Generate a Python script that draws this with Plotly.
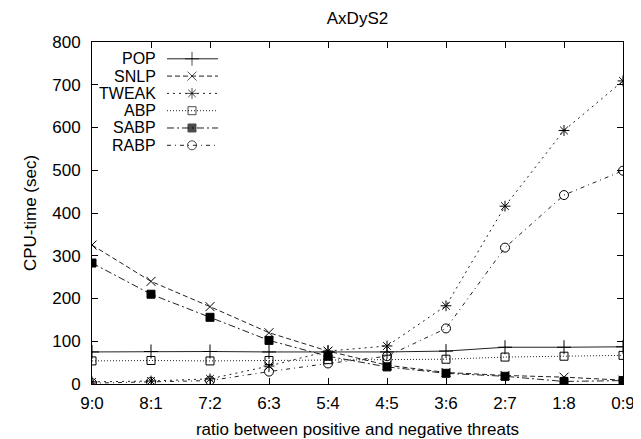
import plotly.graph_objects as go

categories = ["9:0", "8:1", "7:2", "6:3", "5:4", "4:5", "3:6", "2:7", "1:8", "0:9"]
pop   = [75, 76, 76, 75, 75, 75, 77, 86, 86, 87]
snlp  = [325, 240, 181, 120, 77, 44, 27, 20, 16, 9]
tweak = [5, 7, 12, 42, 77, 89, 183, 416, 593, 709]
abp   = [54, 55, 54, 55, 57, 58, 58, 63, 65, 67]
sabp  = [283, 210, 156, 102, 65, 40, 25, 18, 6, 8]
rabp  = [2, 5, 8, 29, 48, 65, 130, 319, 442, 499]

series = [
    ("POP", pop, "solid", "cross-thin-open", 10),
    ("SNLP", snlp, "5px,3px", "x-thin-open", 9),
    ("TWEAK", tweak, "2px,4px", "asterisk-open", 9),
    ("ABP", abp, "1px,2px", "square-open", 8),
    ("SABP", sabp, "7px,3px,2px,3px", "square", 8),
    ("RABP", rabp, "4px,4px,1px,4px", "circle-open", 9),
]

FONT = "Liberation Sans, Arial, sans-serif"
FS = 17
LFS = 16
L, R, T, B = 84, 615, 34, 380
W, H = 641, 439

fig = go.Figure()
for name, vals, dash, sym, ms in series:
    fig.add_trace(go.Scatter(
        x=categories, y=vals, mode="lines+markers", name=name,
        line=dict(color="#222", width=1, dash=dash),
        marker=dict(symbol=sym, size=ms,
                    color="black", line=dict(color="black", width=1)),
        showlegend=False,
    ))

# custom gnuplot-style legend (text left, sample right) on a pixel helper axis
row_y = [51, 68.5, 86, 103.5, 121, 138.5]
for (name, vals, dash, sym, ms), ry in zip(series, row_y):
    fig.add_trace(go.Scatter(
        x=[159, 184, 210], y=[ry, ry, ry], xaxis="x2", yaxis="y2",
        mode="lines+markers", showlegend=False, hoverinfo="skip",
        line=dict(color="#222", width=1, dash=dash),
        marker=dict(symbol=sym, size=[0, ms, 0],
                    color="black", line=dict(color="black", width=1)),
    ))
    fig.add_annotation(x=149, y=ry, xref="x2", yref="y2", text=name,
                       showarrow=False, xanchor="right", yanchor="middle",
                       borderpad=0,
                       font=dict(family=FONT, size=LFS, color="black"))

axis_common = dict(showline=True, linecolor="black", linewidth=1, mirror="ticks",
                   ticks="inside", ticklen=6, tickcolor="black", showgrid=False,
                   zeroline=False, tickfont=dict(family=FONT, size=FS, color="black"))

fig.update_layout(
    width=W, height=H,
    margin=dict(l=L, r=W - R, t=T, b=H - B),
    paper_bgcolor="white", plot_bgcolor="white",
    title=dict(text="AxDyS2", x=(L + R) / 2 / W, xref="container", xanchor="center",
               y=1 - 10 / H, yanchor="middle",
               font=dict(family=FONT, size=FS, color="black")),
    xaxis=dict(type="category", range=[0, 9], ticklabelstandoff=4,
               title=dict(text="ratio between positive and negative threats",
                          font=dict(family=FONT, size=FS, color="black"), standoff=10),
               **axis_common),
    yaxis=dict(range=[0, 800], dtick=100, ticklabelstandoff=7,
               title=dict(text="CPU-time (sec)",
                          font=dict(family=FONT, size=FS, color="black"), standoff=11),
               **axis_common),
    xaxis2=dict(range=[L, R], overlaying="x", visible=False, fixedrange=True),
    yaxis2=dict(range=[B, T], overlaying="y", visible=False, fixedrange=True),
)

fig.write_html("out.html")
